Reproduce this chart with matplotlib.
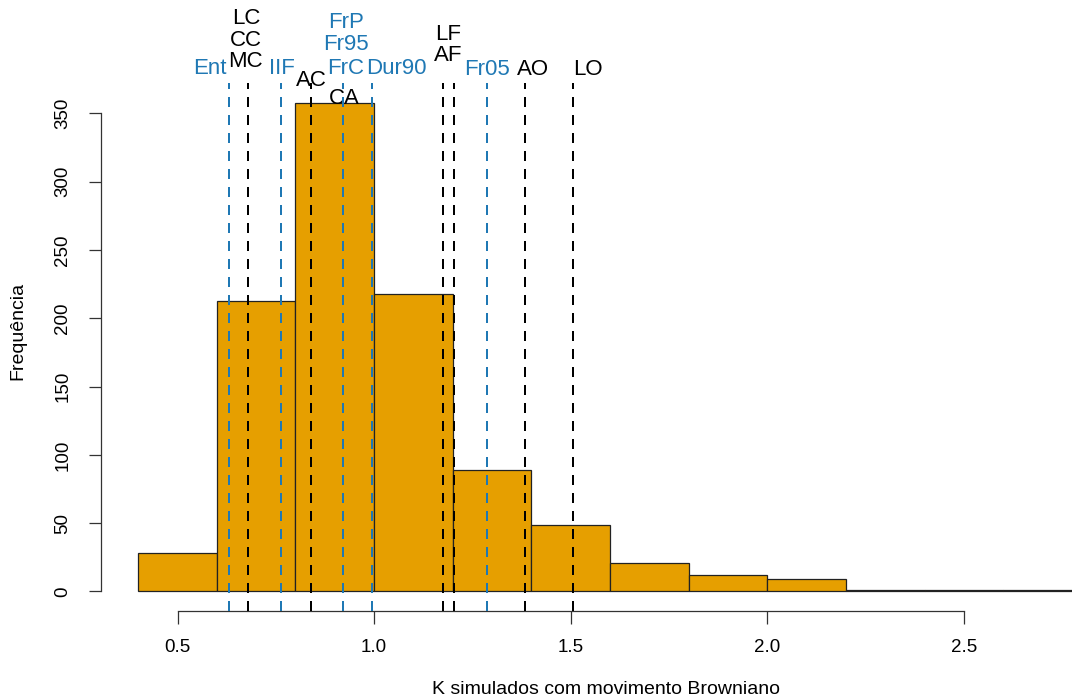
import numpy as np
import matplotlib
matplotlib.use("Agg")
import matplotlib.pyplot as plt
import matplotlib.transforms as mtransforms

# Histogram of simulated K values (bins of width 0.2)
bin_edges = [0.4, 0.6, 0.8, 1.0, 1.2, 1.4, 1.6, 1.8, 2.0, 2.2, 2.4, 2.6, 2.8]
counts = [28, 213, 358, 218, 89, 49, 21, 12, 9, 1, 1, 1]

# Observed K of each trait (vertical reference lines)
trait_names = ["Ent", "LC", "CC", "MC", "IIF", "AC", "CA", "FrP", "Fr95", "FrC",
               "Dur90", "LF", "AF", "Fr05", "AO", "LO"]
trait_k = [0.630, 0.679, 0.679, 0.679, 0.763, 0.839, 0.920, 0.921, 0.921, 0.921,
           0.995, 1.176, 1.204, 1.288, 1.383, 1.505]
trait_group = ["flor", "folha", "folha", "folha", "flor", "folha", "folha", "flor",
               "flor", "flor", "flor", "folha", "folha", "flor", "folha", "folha"]

x_ticks = [0.5, 1.0, 1.5, 2.0, 2.5]
y_ticks = [0, 50, 100, 150, 200, 250, 300, 350]

# label offsets (pixels) from the top of each line, set by hand to avoid overlaps
label_offsets = [(-19, 14.5), (-2, 64), (-2, 43), (-2, 21.5), (1, 14.5), (1, 2.5),
                 (2, -15.5), (3, 61), (3, 38), (3, 14.5), (24, 14.5), (5, 48),
                 (-6, 27.5), (0, 13.5), (8, 13.5), (15, 13.5)]

colors = {"flor": "#1f78b4", "folha": "black"}
plt.rcParams['font.family'] = ['Liberation Sans', 'DejaVu Sans']

W, H = 1072, 700
fig = plt.figure(figsize=(W / 100, H / 100), dpi=100)
# plot region runs past the right edge of the picture, as in the original
ax = fig.add_axes([100.5 / W, 89 / H, 1019 / W, 528 / H])

widths = np.diff(bin_edges)
ax.bar(bin_edges[:-1], counts, width=widths, align="edge", color="#E69F00",
       edgecolor="#222222", linewidth=0.9, zorder=1)

ymax = max(counts)
xr = bin_edges[-1] - bin_edges[0]
ax.set_xlim(bin_edges[0] - 0.04 * xr, bin_edges[-1] + 0.04 * xr)
ax.set_ylim(-0.04 * ymax, 1.04 * ymax)

trans = mtransforms.blended_transform_factory(ax.transData, ax.transAxes)
px = 0.72  # points per pixel
for name, k, g, (dx, dy) in zip(trait_names, trait_k, trait_group, label_offsets):
    ax.axvline(k, color=colors[g], linewidth=2 * px, dashes=(5, 4), zorder=3)
    ax.annotate(name, xy=(k, 1), xycoords=trans, xytext=(dx * px, dy * px),
                textcoords="offset points", ha="center", va="center",
                color=colors[g], fontsize=16, annotation_clip=False)

for s in ["top", "right"]:
    ax.spines[s].set_visible(False)
ax.spines["left"].set_bounds(y_ticks[0], y_ticks[-1])
ax.spines["bottom"].set_bounds(x_ticks[0], x_ticks[-1])
for s in ["left", "bottom"]:
    ax.spines[s].set_color("#333333")
    ax.spines[s].set_linewidth(0.9)

ax.set_xticks(x_ticks)
ax.set_xticklabels([f"{v:.1f}" for v in x_ticks])
ax.set_yticks(y_ticks)
ax.tick_params(axis="both", length=9, width=0.9, color="#333333", labelsize=13.5)
ax.tick_params(axis="x", pad=11)
ax.tick_params(axis="y", pad=12, labelrotation=90)
for lab in ax.get_yticklabels():
    lab.set_va("center")

fig.text(606 / W, 1 - 690 / H, "K simulados com movimento Browniano",
         ha="center", va="center", fontsize=14)
fig.text(18 / W, 1 - 331 / H, "Frequência", rotation=90,
         ha="center", va="center", fontsize=14)

fig.savefig("out.png", dpi=100)
